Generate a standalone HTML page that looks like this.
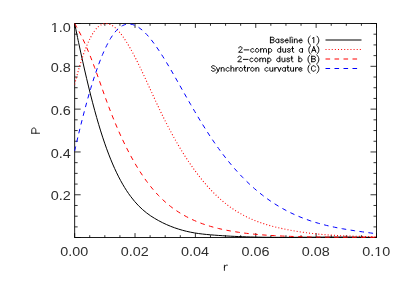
<!DOCTYPE html>
<html><head><meta charset="utf-8"><title>P(r)</title><style>html,body{margin:0;padding:0;background:#fff}svg{display:block}</style></head><body>
<svg width="399" height="285" viewBox="0 0 399 285" style="will-change:transform;transform:translateZ(0);filter:blur(0.3px)">
<rect width="399" height="285" fill="#fff"/>
<clipPath id="c"><rect x="74.15" y="23.00" width="302.85" height="215.00"/></clipPath>
<g fill="none" stroke="#1c1c1c" stroke-width="1">
<rect x="74.65" y="23.50" width="301.85" height="214.00"/>
<path d="M74.65,237.50v-4.40M74.65,23.50v4.40M89.74,237.50v-2.30M89.74,23.50v2.30M104.84,237.50v-2.30M104.84,23.50v2.30M119.93,237.50v-2.30M119.93,23.50v2.30M135.02,237.50v-4.40M135.02,23.50v4.40M150.11,237.50v-2.30M150.11,23.50v2.30M165.20,237.50v-2.30M165.20,23.50v2.30M180.30,237.50v-2.30M180.30,23.50v2.30M195.39,237.50v-4.40M195.39,23.50v4.40M210.48,237.50v-2.30M210.48,23.50v2.30M225.58,237.50v-2.30M225.58,23.50v2.30M240.67,237.50v-2.30M240.67,23.50v2.30M255.76,237.50v-4.40M255.76,23.50v4.40M270.85,237.50v-2.30M270.85,23.50v2.30M285.95,237.50v-2.30M285.95,23.50v2.30M301.04,237.50v-2.30M301.04,23.50v2.30M316.13,237.50v-4.40M316.13,23.50v4.40M331.22,237.50v-2.30M331.22,23.50v2.30M346.32,237.50v-2.30M346.32,23.50v2.30M361.41,237.50v-2.30M361.41,23.50v2.30M376.50,237.50v-4.40M376.50,23.50v4.40M74.65,237.50h6.00M376.50,237.50h-6.00M74.65,226.89h3.00M376.50,226.89h-3.00M74.65,216.19h3.00M376.50,216.19h-3.00M74.65,205.48h3.00M376.50,205.48h-3.00M74.65,194.78h6.00M376.50,194.78h-6.00M74.65,184.07h3.00M376.50,184.07h-3.00M74.65,173.37h3.00M376.50,173.37h-3.00M74.65,162.66h3.00M376.50,162.66h-3.00M74.65,151.96h6.00M376.50,151.96h-6.00M74.65,141.25h3.00M376.50,141.25h-3.00M74.65,130.55h3.00M376.50,130.55h-3.00M74.65,119.84h3.00M376.50,119.84h-3.00M74.65,109.14h6.00M376.50,109.14h-6.00M74.65,98.44h3.00M376.50,98.44h-3.00M74.65,87.73h3.00M376.50,87.73h-3.00M74.65,77.03h3.00M376.50,77.03h-3.00M74.65,66.32h6.00M376.50,66.32h-6.00M74.65,55.61h3.00M376.50,55.61h-3.00M74.65,44.91h3.00M376.50,44.91h-3.00M74.65,34.20h3.00M376.50,34.20h-3.00M74.65,23.50h6.00M376.50,23.50h-6.00" stroke="#000" stroke-width="0.8"/>
</g>
<g fill="none" stroke-width="1" clip-path="url(#c)">
<path d="M74.65,23.50 C75.32,26.71 77.32,36.47 78.65,42.74 C79.98,49.02 81.32,55.18 82.65,61.16 C83.98,67.14 85.32,72.98 86.65,78.62 C87.98,84.26 89.32,89.74 90.65,95.01 C91.98,100.29 93.32,105.39 94.65,110.28 C95.98,115.17 97.32,119.87 98.65,124.35 C99.98,128.84 101.32,133.12 102.65,137.18 C103.98,141.25 105.32,145.11 106.65,148.77 C107.98,152.44 109.32,155.90 110.65,159.19 C111.98,162.48 113.32,165.58 114.65,168.52 C115.98,171.46 117.32,174.21 118.65,176.83 C119.98,179.44 121.32,181.88 122.65,184.20 C123.98,186.51 125.32,188.67 126.65,190.71 C127.98,192.75 129.32,194.64 130.65,196.43 C131.98,198.23 133.32,199.89 134.65,201.46 C135.98,203.03 137.32,204.48 138.65,205.84 C139.98,207.21 141.32,208.46 142.65,209.65 C143.98,210.84 145.32,211.93 146.65,212.96 C147.98,213.99 149.32,214.94 150.65,215.85 C151.98,216.75 153.32,217.59 154.65,218.39 C155.98,219.20 157.32,219.95 158.65,220.67 C159.98,221.40 161.32,222.08 162.65,222.74 C163.98,223.40 165.32,224.02 166.65,224.61 C167.98,225.21 169.32,225.77 170.65,226.30 C171.98,226.83 173.32,227.33 174.65,227.81 C175.98,228.28 177.32,228.73 178.65,229.14 C179.98,229.56 181.32,229.95 182.65,230.32 C183.98,230.68 185.32,231.02 186.65,231.34 C187.98,231.66 189.32,231.95 190.65,232.21 C191.98,232.48 193.32,232.73 194.65,232.95 C195.98,233.17 197.32,233.37 198.65,233.56 C199.98,233.74 201.32,233.91 202.65,234.06 C203.98,234.21 205.32,234.35 206.65,234.48 C207.98,234.61 209.32,234.72 210.65,234.83 C211.98,234.95 213.32,235.05 214.65,235.16 C215.98,235.26 217.32,235.36 218.65,235.45 C219.98,235.55 221.32,235.64 222.65,235.72 C223.98,235.81 225.32,235.89 226.65,235.97 C227.98,236.05 229.32,236.12 230.65,236.19 C231.98,236.26 233.32,236.33 234.65,236.39 C235.98,236.45 237.32,236.51 238.65,236.57 C239.98,236.62 241.32,236.67 242.65,236.72 C243.98,236.77 245.32,236.82 246.65,236.86 C247.98,236.90 249.32,236.94 250.65,236.97 C251.98,237.01 253.32,237.04 254.65,237.07 C255.98,237.10 257.32,237.13 258.65,237.15 C259.98,237.18 261.32,237.20 262.65,237.22 C263.98,237.24 265.32,237.25 266.65,237.27 C267.98,237.28 269.32,237.29 270.65,237.30 C271.98,237.32 273.32,237.32 274.65,237.33 C275.98,237.34 277.32,237.34 278.65,237.34 C279.98,237.35 281.32,237.35 282.65,237.35 C283.98,237.35 285.32,237.35 286.65,237.34 C287.98,237.34 289.32,237.34 290.65,237.33 C291.98,237.33 293.32,237.32 294.65,237.31 C295.98,237.31 297.32,237.30 298.65,237.29 C299.98,237.28 301.32,237.27 302.65,237.26 C303.98,237.25 305.32,237.24 306.65,237.23 C307.98,237.22 309.32,237.21 310.65,237.20 C311.98,237.19 313.32,237.18 314.65,237.17 C315.98,237.16 317.32,237.15 318.65,237.14 C319.98,237.13 321.32,237.12 322.65,237.11 C323.98,237.10 325.32,237.09 326.65,237.08 C327.98,237.08 329.32,237.07 330.65,237.06 C331.98,237.06 333.32,237.05 334.65,237.05 C335.98,237.04 337.32,237.04 338.65,237.04 C339.98,237.04 341.32,237.03 342.65,237.04 C343.98,237.04 345.32,237.04 346.65,237.04 C347.98,237.05 349.32,237.05 350.65,237.06 C351.98,237.07 353.32,237.08 354.65,237.09 C355.98,237.10 357.32,237.12 358.65,237.13 C359.98,237.15 361.32,237.17 362.65,237.19 C363.98,237.21 365.32,237.23 366.65,237.26 C367.98,237.28 369.32,237.31 370.65,237.34 C371.98,237.38 373.67,237.42 374.65,237.45 C375.62,237.47 376.19,237.49 376.50,237.50" stroke="#000"/>
<path d="M74.65,84.35 C75.32,81.89 77.32,74.19 78.65,69.59 C79.98,64.99 81.32,60.69 82.65,56.75 C83.98,52.81 85.32,49.20 86.65,45.95 C87.98,42.70 89.32,39.79 90.65,37.26 C91.98,34.73 93.32,32.57 94.65,30.77 C95.98,28.97 97.32,27.55 98.65,26.44 C99.98,25.33 101.32,24.58 102.65,24.10 C103.98,23.62 105.32,23.48 106.65,23.58 C107.98,23.68 109.32,24.09 110.65,24.71 C111.98,25.33 113.32,26.23 114.65,27.31 C115.98,28.39 117.32,29.72 118.65,31.21 C119.98,32.70 121.32,34.40 122.65,36.24 C123.98,38.07 125.32,40.09 126.65,42.21 C127.98,44.34 129.32,46.62 130.65,48.99 C131.98,51.36 133.32,53.86 134.65,56.43 C135.98,59.00 137.32,61.67 138.65,64.40 C139.98,67.12 141.32,69.93 142.65,72.76 C143.98,75.59 145.32,78.49 146.65,81.39 C147.98,84.29 149.32,87.23 150.65,90.14 C151.98,93.06 153.32,96.00 154.65,98.90 C155.98,101.79 157.32,104.68 158.65,107.51 C159.98,110.33 161.32,113.13 162.65,115.85 C163.98,118.57 165.32,121.24 166.65,123.84 C167.98,126.45 169.32,129.00 170.65,131.49 C171.98,133.98 173.32,136.41 174.65,138.78 C175.98,141.16 177.32,143.48 178.65,145.74 C179.98,148.00 181.32,150.21 182.65,152.36 C183.98,154.51 185.32,156.61 186.65,158.65 C187.98,160.69 189.32,162.68 190.65,164.61 C191.98,166.54 193.32,168.42 194.65,170.25 C195.98,172.08 197.32,173.85 198.65,175.57 C199.98,177.30 201.32,178.97 202.65,180.59 C203.98,182.21 205.32,183.77 206.65,185.29 C207.98,186.81 209.32,188.27 210.65,189.69 C211.98,191.11 213.32,192.48 214.65,193.80 C215.98,195.11 217.32,196.38 218.65,197.61 C219.98,198.83 221.32,200.00 222.65,201.13 C223.98,202.26 225.32,203.33 226.65,204.37 C227.98,205.41 229.32,206.40 230.65,207.35 C231.98,208.30 233.32,209.20 234.65,210.07 C235.98,210.94 237.32,211.77 238.65,212.56 C239.98,213.36 241.32,214.11 242.65,214.83 C243.98,215.55 245.32,216.24 246.65,216.89 C247.98,217.55 249.32,218.17 250.65,218.76 C251.98,219.36 253.32,219.92 254.65,220.46 C255.98,221.00 257.32,221.50 258.65,221.99 C259.98,222.48 261.32,222.94 262.65,223.38 C263.98,223.82 265.32,224.24 266.65,224.64 C267.98,225.04 269.32,225.41 270.65,225.78 C271.98,226.15 273.32,226.49 274.65,226.83 C275.98,227.16 277.32,227.48 278.65,227.79 C279.98,228.10 281.32,228.40 282.65,228.69 C283.98,228.98 285.32,229.25 286.65,229.52 C287.98,229.79 289.32,230.04 290.65,230.29 C291.98,230.53 293.32,230.77 294.65,231.00 C295.98,231.22 297.32,231.44 298.65,231.65 C299.98,231.85 301.32,232.05 302.65,232.24 C303.98,232.43 305.32,232.61 306.65,232.78 C307.98,232.96 309.32,233.12 310.65,233.28 C311.98,233.43 313.32,233.58 314.65,233.72 C315.98,233.87 317.32,234.00 318.65,234.13 C319.98,234.26 321.32,234.38 322.65,234.49 C323.98,234.60 325.32,234.71 326.65,234.81 C327.98,234.91 329.32,235.01 330.65,235.10 C331.98,235.19 333.32,235.27 334.65,235.35 C335.98,235.43 337.32,235.51 338.65,235.58 C339.98,235.65 341.32,235.71 342.65,235.77 C343.98,235.84 345.32,235.89 346.65,235.95 C347.98,236.00 349.32,236.05 350.65,236.10 C351.98,236.14 353.32,236.18 354.65,236.23 C355.98,236.27 357.32,236.30 358.65,236.34 C359.98,236.37 361.32,236.41 362.65,236.44 C363.98,236.47 365.32,236.50 366.65,236.53 C367.98,236.55 369.32,236.58 370.65,236.61 C371.98,236.63 373.67,236.66 374.65,236.68 C375.62,236.70 376.19,236.71 376.50,236.71" stroke="#f00" stroke-dasharray="1 2.12" stroke-width="1.1"/>
<path d="M74.65,23.51 C75.32,24.70 77.32,28.17 78.65,30.68 C79.98,33.19 81.32,35.80 82.65,38.59 C83.98,41.38 85.32,44.32 86.65,47.41 C87.98,50.50 89.32,53.77 90.65,57.14 C91.98,60.51 93.32,64.03 94.65,67.61 C95.98,71.20 97.32,74.92 98.65,78.66 C99.98,82.40 101.32,86.29 102.65,90.04 C103.98,93.80 105.32,97.56 106.65,101.17 C107.98,104.79 109.32,108.33 110.65,111.75 C111.98,115.18 113.32,118.49 114.65,121.72 C115.98,124.94 117.32,128.05 118.65,131.08 C119.98,134.10 121.32,137.02 122.65,139.86 C123.98,142.69 125.32,145.42 126.65,148.07 C127.98,150.72 129.32,153.27 130.65,155.74 C131.98,158.21 133.32,160.58 134.65,162.88 C135.98,165.17 137.32,167.38 138.65,169.51 C139.98,171.63 141.32,173.68 142.65,175.65 C143.98,177.61 145.32,179.50 146.65,181.31 C147.98,183.12 149.32,184.86 150.65,186.52 C151.98,188.19 153.32,189.78 154.65,191.30 C155.98,192.82 157.32,194.27 158.65,195.66 C159.98,197.05 161.32,198.36 162.65,199.62 C163.98,200.89 165.32,202.08 166.65,203.22 C167.98,204.37 169.32,205.45 170.65,206.49 C171.98,207.52 173.32,208.51 174.65,209.45 C175.98,210.39 177.32,211.27 178.65,212.13 C179.98,212.98 181.32,213.79 182.65,214.56 C183.98,215.34 185.32,216.07 186.65,216.78 C187.98,217.48 189.32,218.16 190.65,218.80 C191.98,219.44 193.32,220.05 194.65,220.64 C195.98,221.22 197.32,221.78 198.65,222.31 C199.98,222.84 201.32,223.34 202.65,223.82 C203.98,224.30 205.32,224.75 206.65,225.18 C207.98,225.62 209.32,226.03 210.65,226.42 C211.98,226.81 213.32,227.17 214.65,227.53 C215.98,227.88 217.32,228.21 218.65,228.53 C219.98,228.85 221.32,229.14 222.65,229.43 C223.98,229.72 225.32,229.99 226.65,230.25 C227.98,230.51 229.32,230.76 230.65,231.00 C231.98,231.24 233.32,231.46 234.65,231.68 C235.98,231.89 237.32,232.10 238.65,232.29 C239.98,232.49 241.32,232.68 242.65,232.85 C243.98,233.03 245.32,233.20 246.65,233.36 C247.98,233.51 249.32,233.66 250.65,233.81 C251.98,233.95 253.32,234.08 254.65,234.21 C255.98,234.34 257.32,234.46 258.65,234.57 C259.98,234.69 261.32,234.79 262.65,234.90 C263.98,235.00 265.32,235.09 266.65,235.18 C267.98,235.27 269.32,235.36 270.65,235.44 C271.98,235.52 273.32,235.59 274.65,235.67 C275.98,235.74 277.32,235.81 278.65,235.87 C279.98,235.94 281.32,236.00 282.65,236.06 C283.98,236.11 285.32,236.17 286.65,236.22 C287.98,236.28 289.32,236.33 290.65,236.38 C291.98,236.42 293.32,236.47 294.65,236.51 C295.98,236.56 297.32,236.60 298.65,236.64 C299.98,236.68 301.32,236.71 302.65,236.75 C303.98,236.78 305.32,236.81 306.65,236.84 C307.98,236.87 309.32,236.90 310.65,236.93 C311.98,236.96 313.32,236.98 314.65,237.00 C315.98,237.03 317.32,237.05 318.65,237.07 C319.98,237.09 321.32,237.11 322.65,237.12 C323.98,237.14 325.32,237.16 326.65,237.17 C327.98,237.18 329.32,237.20 330.65,237.21 C331.98,237.22 333.32,237.23 334.65,237.24 C335.98,237.25 337.32,237.26 338.65,237.27 C339.98,237.28 341.32,237.28 342.65,237.29 C343.98,237.30 345.32,237.30 346.65,237.31 C347.98,237.31 349.32,237.32 350.65,237.32 C351.98,237.33 353.32,237.33 354.65,237.34 C355.98,237.34 357.32,237.34 358.65,237.35 C359.98,237.35 361.32,237.35 362.65,237.35 C363.98,237.36 365.32,237.36 366.65,237.36 C367.98,237.37 369.32,237.37 370.65,237.37 C371.98,237.38 373.67,237.38 374.65,237.39 C375.62,237.39 376.19,237.39 376.50,237.39" stroke="#f00" stroke-dasharray="4.6 4.4"/>
<path d="M74.65,150.88 C75.32,148.05 77.32,139.40 78.65,133.88 C79.98,128.37 81.32,122.99 82.65,117.79 C83.98,112.59 85.32,107.54 86.65,102.69 C87.98,97.85 89.32,93.17 90.65,88.70 C91.98,84.24 93.32,79.97 94.65,75.93 C95.98,71.88 97.32,68.05 98.65,64.45 C99.98,60.85 101.32,57.46 102.65,54.32 C103.98,51.17 105.32,48.26 106.65,45.59 C107.98,42.92 109.32,40.49 110.65,38.31 C111.98,36.14 113.32,34.21 114.65,32.54 C115.98,30.88 117.32,29.47 118.65,28.31 C119.98,27.15 121.32,26.26 122.65,25.58 C123.98,24.90 125.32,24.47 126.65,24.23 C127.98,24.00 129.32,23.99 130.65,24.16 C131.98,24.33 133.32,24.72 134.65,25.26 C135.98,25.80 137.32,26.53 138.65,27.40 C139.98,28.28 141.32,29.32 142.65,30.49 C143.98,31.66 145.32,32.99 146.65,34.42 C147.98,35.84 149.32,37.41 150.65,39.06 C151.98,40.71 153.32,42.48 154.65,44.32 C155.98,46.15 157.32,48.09 158.65,50.08 C159.98,52.06 161.32,54.13 162.65,56.24 C163.98,58.34 165.32,60.52 166.65,62.72 C167.98,64.92 169.32,67.18 170.65,69.46 C171.98,71.73 173.32,74.05 174.65,76.38 C175.98,78.70 177.32,81.06 178.65,83.41 C179.98,85.76 181.32,88.12 182.65,90.47 C183.98,92.82 185.32,95.18 186.65,97.51 C187.98,99.84 189.32,102.16 190.65,104.46 C191.98,106.76 193.32,109.04 194.65,111.30 C195.98,113.56 197.32,115.80 198.65,118.01 C199.98,120.22 201.32,122.40 202.65,124.55 C203.98,126.70 205.32,128.82 206.65,130.91 C207.98,132.99 209.32,135.04 210.65,137.05 C211.98,139.05 213.32,141.02 214.65,142.94 C215.98,144.87 217.32,146.75 218.65,148.58 C219.98,150.42 221.32,152.22 222.65,153.98 C223.98,155.73 225.32,157.45 226.65,159.12 C227.98,160.80 229.32,162.43 230.65,164.03 C231.98,165.63 233.32,167.19 234.65,168.71 C235.98,170.22 237.32,171.71 238.65,173.15 C239.98,174.60 241.32,176.00 242.65,177.37 C243.98,178.74 245.32,180.08 246.65,181.38 C247.98,182.68 249.32,183.94 250.65,185.17 C251.98,186.40 253.32,187.60 254.65,188.76 C255.98,189.92 257.32,191.05 258.65,192.14 C259.98,193.24 261.32,194.30 262.65,195.34 C263.98,196.37 265.32,197.37 266.65,198.34 C267.98,199.31 269.32,200.25 270.65,201.16 C271.98,202.07 273.32,202.95 274.65,203.80 C275.98,204.66 277.32,205.48 278.65,206.28 C279.98,207.08 281.32,207.85 282.65,208.59 C283.98,209.34 285.32,210.06 286.65,210.76 C287.98,211.45 289.32,212.12 290.65,212.77 C291.98,213.42 293.32,214.04 294.65,214.65 C295.98,215.25 297.32,215.83 298.65,216.39 C299.98,216.95 301.32,217.49 302.65,218.00 C303.98,218.52 305.32,219.02 306.65,219.50 C307.98,219.98 309.32,220.44 310.65,220.89 C311.98,221.33 313.32,221.76 314.65,222.17 C315.98,222.58 317.32,222.97 318.65,223.35 C319.98,223.73 321.32,224.09 322.65,224.44 C323.98,224.79 325.32,225.12 326.65,225.45 C327.98,225.77 329.32,226.08 330.65,226.38 C331.98,226.67 333.32,226.96 334.65,227.24 C335.98,227.51 337.32,227.78 338.65,228.03 C339.98,228.29 341.32,228.53 342.65,228.77 C343.98,229.01 345.32,229.24 346.65,229.46 C347.98,229.69 349.32,229.90 350.65,230.11 C351.98,230.32 353.32,230.53 354.65,230.73 C355.98,230.93 357.32,231.12 358.65,231.31 C359.98,231.51 361.32,231.69 362.65,231.88 C363.98,232.07 365.32,232.25 366.65,232.43 C367.98,232.61 369.32,232.79 370.65,232.98 C371.98,233.16 373.67,233.39 374.65,233.52 C375.62,233.65 376.19,233.73 376.50,233.77" stroke="#00f" stroke-dasharray="4.6 4.4"/>
</g>
<g font-family="Liberation Sans, sans-serif" font-size="13.3" fill="#2e2e2e">
<text x="74.35" y="255.6" text-anchor="middle" textLength="28.0" lengthAdjust="spacingAndGlyphs">0.00</text>
<text x="134.72" y="255.6" text-anchor="middle" textLength="28.0" lengthAdjust="spacingAndGlyphs">0.02</text>
<text x="195.09" y="255.6" text-anchor="middle" textLength="28.0" lengthAdjust="spacingAndGlyphs">0.04</text>
<text x="255.46" y="255.6" text-anchor="middle" textLength="28.0" lengthAdjust="spacingAndGlyphs">0.06</text>
<text x="315.83" y="255.6" text-anchor="middle" textLength="28.0" lengthAdjust="spacingAndGlyphs">0.08</text>
<text x="376.20" y="255.6" text-anchor="middle" textLength="28.0" lengthAdjust="spacingAndGlyphs">0.10</text>
<text x="70.8" y="32.40" text-anchor="end" textLength="20.1" lengthAdjust="spacingAndGlyphs">1.0</text>
<text x="70.8" y="71.92" text-anchor="end" textLength="20.1" lengthAdjust="spacingAndGlyphs">0.8</text>
<text x="70.8" y="114.74" text-anchor="end" textLength="20.1" lengthAdjust="spacingAndGlyphs">0.6</text>
<text x="70.8" y="157.56" text-anchor="end" textLength="20.1" lengthAdjust="spacingAndGlyphs">0.4</text>
<text x="70.8" y="200.38" text-anchor="end" textLength="20.1" lengthAdjust="spacingAndGlyphs">0.2</text>
</g>
<path d="M50.5,31h3.5v1h-3.5zM56,31h3v1h-3zM374.5,255h3.1v1h-3.1zM379.4,255h3.1v1h-3.1z" fill="#fff"/>
<g fill="none" stroke-width="1">
<path d="M325.5,40H361.5" stroke="#000"/>
<path d="M325.5,49.5H361.5" stroke="#f00" stroke-dasharray="1 2.12" stroke-width="1.1"/>
<path d="M325.5,59H361.5" stroke="#f00" stroke-dasharray="4.6 4.4"/>
<path d="M325.5,68.5H361.5" stroke="#00f" stroke-dasharray="4.6 4.4"/>
</g>
<g fill="none" stroke="#000" stroke-width="0.95" stroke-linejoin="round" stroke-linecap="round">
<g aria-label="Baseline (1)"><title>Baseline (1)</title><path d="M270.41,37.23L270.41,42.75M270.41,37.23L272.77,37.23L273.56,37.49L273.83,37.75L274.09,38.28L274.09,38.8L273.83,39.33L273.56,39.59L272.77,39.86M270.41,39.86L272.77,39.86L273.56,40.12L273.83,40.38L274.09,40.91L274.09,41.7L273.83,42.22L273.56,42.49L272.77,42.75L270.41,42.75M278.82,39.07L278.82,42.75M278.82,39.86L278.3,39.33L277.77,39.07L276.98,39.07L276.46,39.33L275.93,39.86L275.67,40.65L275.67,41.17L275.93,41.96L276.46,42.49L276.98,42.75L277.77,42.75L278.3,42.49L278.82,41.96M283.56,39.86L283.29,39.33L282.5,39.07L281.72,39.07L280.93,39.33L280.66,39.86L280.93,40.38L281.45,40.65L282.77,40.91L283.29,41.17L283.56,41.7L283.56,41.96L283.29,42.49L282.5,42.75L281.72,42.75L280.93,42.49L280.66,41.96M285.13,40.65L288.29,40.65L288.29,40.12L288.03,39.59L287.76,39.33L287.24,39.07L286.45,39.07L285.92,39.33L285.4,39.86L285.13,40.65L285.13,41.17L285.4,41.96L285.92,42.49L286.45,42.75L287.24,42.75L287.76,42.49L288.29,41.96M290.13,37.23L290.13,42.75M291.97,37.23L292.24,37.49L292.5,37.23L292.24,36.96L291.97,37.23M292.24,39.07L292.24,42.75M294.34,39.07L294.34,42.75M294.34,40.12L295.13,39.33L295.65,39.07L296.44,39.07L296.97,39.33L297.23,40.12L297.23,42.75M299.07,40.65L302.23,40.65L302.23,40.12L301.97,39.59L301.7,39.33L301.18,39.07L300.39,39.07L299.86,39.33L299.34,39.86L299.07,40.65L299.07,41.17L299.34,41.96L299.86,42.49L300.39,42.75L301.18,42.75L301.7,42.49L302.23,41.96M310.12,36.17L309.59,36.7L309.07,37.49L308.54,38.54L308.28,39.86L308.28,40.91L308.54,42.22L309.07,43.28L309.59,44.06L310.12,44.59M312.49,38.28L313.01,38.02L313.8,37.23L313.8,42.75M316.96,36.17L317.48,36.7L318.01,37.49L318.54,38.54L318.8,39.86L318.8,40.91L318.54,42.22L318.01,43.28L317.48,44.06L316.96,44.59"/></g>
<g aria-label="2-comp dust a (A)"><title>2-comp dust a (A)</title><path d="M238.85,48.04L238.85,47.78L239.11,47.25L239.37,46.99L239.9,46.73L240.95,46.73L241.48,46.99L241.74,47.25L242,47.78L242,48.3L241.74,48.83L241.21,49.62L238.58,52.25L242.27,52.25M244.11,49.88L248.84,49.88M253.84,49.36L253.31,48.83L252.79,48.57L252,48.57L251.47,48.83L250.94,49.36L250.68,50.15L250.68,50.67L250.94,51.46L251.47,51.99L252,52.25L252.79,52.25L253.31,51.99L253.84,51.46M256.73,48.57L256.2,48.83L255.68,49.36L255.42,50.15L255.42,50.67L255.68,51.46L256.2,51.99L256.73,52.25L257.52,52.25L258.05,51.99L258.57,51.46L258.83,50.67L258.83,50.15L258.57,49.36L258.05,48.83L257.52,48.57L256.73,48.57M260.68,48.57L260.68,52.25M260.68,49.62L261.46,48.83L261.99,48.57L262.78,48.57L263.31,48.83L263.57,49.62L263.57,52.25M263.57,49.62L264.36,48.83L264.88,48.57L265.67,48.57L266.2,48.83L266.46,49.62L266.46,52.25M268.57,48.57L268.57,54.09M268.57,49.36L269.09,48.83L269.62,48.57L270.41,48.57L270.93,48.83L271.46,49.36L271.72,50.15L271.72,50.67L271.46,51.46L270.93,51.99L270.41,52.25L269.62,52.25L269.09,51.99L268.57,51.46M280.66,46.73L280.66,52.25M280.66,49.36L280.14,48.83L279.61,48.57L278.82,48.57L278.3,48.83L277.77,49.36L277.51,50.15L277.51,50.67L277.77,51.46L278.3,51.99L278.82,52.25L279.61,52.25L280.14,51.99L280.66,51.46M282.77,48.57L282.77,51.2L283.03,51.99L283.56,52.25L284.35,52.25L284.87,51.99L285.66,51.2M285.66,48.57L285.66,52.25M290.39,49.36L290.13,48.83L289.34,48.57L288.55,48.57L287.76,48.83L287.5,49.36L287.76,49.88L288.29,50.15L289.61,50.41L290.13,50.67L290.39,51.2L290.39,51.46L290.13,51.99L289.34,52.25L288.55,52.25L287.76,51.99L287.5,51.46M292.5,46.73L292.5,51.2L292.76,51.99L293.29,52.25L293.81,52.25M291.71,48.57L293.55,48.57M302.49,48.57L302.49,52.25M302.49,49.36L301.97,48.83L301.44,48.57L300.65,48.57L300.13,48.83L299.6,49.36L299.34,50.15L299.34,50.67L299.6,51.46L300.13,51.99L300.65,52.25L301.44,52.25L301.97,51.99L302.49,51.46M310.65,45.67L310.12,46.2L309.59,46.99L309.07,48.04L308.8,49.36L308.8,50.41L309.07,51.72L309.59,52.78L310.12,53.56L310.65,54.09M313.8,46.73L311.7,52.25M313.8,46.73L315.91,52.25M312.49,50.41L315.12,50.41M316.96,45.67L317.48,46.2L318.01,46.99L318.54,48.04L318.8,49.36L318.8,50.41L318.54,51.72L318.01,52.78L317.48,53.56L316.96,54.09"/></g>
<g aria-label="2-comp dust b (B)"><title>2-comp dust b (B)</title><path d="M238.06,57.54L238.06,57.28L238.32,56.75L238.58,56.49L239.11,56.23L240.16,56.23L240.69,56.49L240.95,56.75L241.21,57.28L241.21,57.8L240.95,58.33L240.42,59.12L237.79,61.75L241.48,61.75M243.32,59.38L248.05,59.38M253.05,58.86L252.52,58.33L252,58.07L251.21,58.07L250.68,58.33L250.16,58.86L249.89,59.65L249.89,60.17L250.16,60.96L250.68,61.49L251.21,61.75L252,61.75L252.52,61.49L253.05,60.96M255.94,58.07L255.42,58.33L254.89,58.86L254.63,59.65L254.63,60.17L254.89,60.96L255.42,61.49L255.94,61.75L256.73,61.75L257.26,61.49L257.78,60.96L258.05,60.17L258.05,59.65L257.78,58.86L257.26,58.33L256.73,58.07L255.94,58.07M259.89,58.07L259.89,61.75M259.89,59.12L260.68,58.33L261.2,58.07L261.99,58.07L262.52,58.33L262.78,59.12L262.78,61.75M262.78,59.12L263.57,58.33L264.09,58.07L264.88,58.07L265.41,58.33L265.67,59.12L265.67,61.75M267.78,58.07L267.78,63.59M267.78,58.86L268.3,58.33L268.83,58.07L269.62,58.07L270.14,58.33L270.67,58.86L270.93,59.65L270.93,60.17L270.67,60.96L270.14,61.49L269.62,61.75L268.83,61.75L268.3,61.49L267.78,60.96M279.87,56.23L279.87,61.75M279.87,58.86L279.35,58.33L278.82,58.07L278.03,58.07L277.51,58.33L276.98,58.86L276.72,59.65L276.72,60.17L276.98,60.96L277.51,61.49L278.03,61.75L278.82,61.75L279.35,61.49L279.87,60.96M281.98,58.07L281.98,60.7L282.24,61.49L282.77,61.75L283.56,61.75L284.08,61.49L284.87,60.7M284.87,58.07L284.87,61.75M289.61,58.86L289.34,58.33L288.55,58.07L287.76,58.07L286.98,58.33L286.71,58.86L286.98,59.38L287.5,59.65L288.82,59.91L289.34,60.17L289.61,60.7L289.61,60.96L289.34,61.49L288.55,61.75L287.76,61.75L286.98,61.49L286.71,60.96M291.71,56.23L291.71,60.7L291.97,61.49L292.5,61.75L293.02,61.75M290.92,58.07L292.76,58.07M298.81,56.23L298.81,61.75M298.81,58.86L299.34,58.33L299.86,58.07L300.65,58.07L301.18,58.33L301.7,58.86L301.97,59.65L301.97,60.17L301.7,60.96L301.18,61.49L300.65,61.75L299.86,61.75L299.34,61.49L298.81,60.96M309.86,55.17L309.33,55.7L308.8,56.49L308.28,57.54L308.02,58.86L308.02,59.91L308.28,61.22L308.8,62.28L309.33,63.06L309.86,63.59M311.7,56.23L311.7,61.75M311.7,56.23L314.06,56.23L314.85,56.49L315.12,56.75L315.38,57.28L315.38,57.8L315.12,58.33L314.85,58.59L314.06,58.86M311.7,58.86L314.06,58.86L314.85,59.12L315.12,59.38L315.38,59.91L315.38,60.7L315.12,61.22L314.85,61.49L314.06,61.75L311.7,61.75M316.96,55.17L317.48,55.7L318.01,56.49L318.54,57.54L318.8,58.86L318.8,59.91L318.54,61.22L318.01,62.28L317.48,63.06L316.96,63.59"/></g>
<g aria-label="Synchrotron curvature (C)"><title>Synchrotron curvature (C)</title><path d="M215.18,66.52L214.65,65.99L213.86,65.73L212.81,65.73L212.02,65.99L211.49,66.52L211.49,67.04L211.76,67.57L212.02,67.83L212.55,68.09L214.12,68.62L214.65,68.88L214.91,69.15L215.18,69.67L215.18,70.46L214.65,70.99L213.86,71.25L212.81,71.25L212.02,70.99L211.49,70.46M216.49,67.57L218.07,71.25M219.65,67.57L218.07,71.25L217.54,72.3L217.02,72.83L216.49,73.09L216.23,73.09M221.23,67.57L221.23,71.25M221.23,68.62L222.01,67.83L222.54,67.57L223.33,67.57L223.86,67.83L224.12,68.62L224.12,71.25M229.12,68.36L228.59,67.83L228.06,67.57L227.27,67.57L226.75,67.83L226.22,68.36L225.96,69.15L225.96,69.67L226.22,70.46L226.75,70.99L227.27,71.25L228.06,71.25L228.59,70.99L229.12,70.46M230.96,65.73L230.96,71.25M230.96,68.62L231.75,67.83L232.27,67.57L233.06,67.57L233.59,67.83L233.85,68.62L233.85,71.25M235.95,67.57L235.95,71.25M235.95,69.15L236.22,68.36L236.74,67.83L237.27,67.57L238.06,67.57M240.42,67.57L239.9,67.83L239.37,68.36L239.11,69.15L239.11,69.67L239.37,70.46L239.9,70.99L240.42,71.25L241.21,71.25L241.74,70.99L242.27,70.46L242.53,69.67L242.53,69.15L242.27,68.36L241.74,67.83L241.21,67.57L240.42,67.57M244.63,65.73L244.63,70.2L244.9,70.99L245.42,71.25L245.95,71.25M243.84,67.57L245.68,67.57M247.53,67.57L247.53,71.25M247.53,69.15L247.79,68.36L248.31,67.83L248.84,67.57L249.63,67.57M252,67.57L251.47,67.83L250.94,68.36L250.68,69.15L250.68,69.67L250.94,70.46L251.47,70.99L252,71.25L252.79,71.25L253.31,70.99L253.84,70.46L254.1,69.67L254.1,69.15L253.84,68.36L253.31,67.83L252.79,67.57L252,67.57M255.94,67.57L255.94,71.25M255.94,68.62L256.73,67.83L257.26,67.57L258.05,67.57L258.57,67.83L258.83,68.62L258.83,71.25M268.04,68.36L267.51,67.83L266.99,67.57L266.2,67.57L265.67,67.83L265.15,68.36L264.88,69.15L264.88,69.67L265.15,70.46L265.67,70.99L266.2,71.25L266.99,71.25L267.51,70.99L268.04,70.46M269.88,67.57L269.88,70.2L270.14,70.99L270.67,71.25L271.46,71.25L271.98,70.99L272.77,70.2M272.77,67.57L272.77,71.25M274.88,67.57L274.88,71.25M274.88,69.15L275.14,68.36L275.67,67.83L276.19,67.57L276.98,67.57M277.77,67.57L279.35,71.25M280.93,67.57L279.35,71.25M285.4,67.57L285.4,71.25M285.4,68.36L284.87,67.83L284.35,67.57L283.56,67.57L283.03,67.83L282.5,68.36L282.24,69.15L282.24,69.67L282.5,70.46L283.03,70.99L283.56,71.25L284.35,71.25L284.87,70.99L285.4,70.46M287.76,65.73L287.76,70.2L288.03,70.99L288.55,71.25L289.08,71.25M286.98,67.57L288.82,67.57M290.66,67.57L290.66,70.2L290.92,70.99L291.45,71.25L292.24,71.25L292.76,70.99L293.55,70.2M293.55,67.57L293.55,71.25M295.65,67.57L295.65,71.25M295.65,69.15L295.92,68.36L296.44,67.83L296.97,67.57L297.76,67.57M298.81,69.15L301.97,69.15L301.97,68.62L301.7,68.09L301.44,67.83L300.91,67.57L300.12,67.57L299.6,67.83L299.07,68.36L298.81,69.15L298.81,69.67L299.07,70.46L299.6,70.99L300.12,71.25L300.91,71.25L301.44,70.99L301.97,70.46M309.86,64.67L309.33,65.2L308.8,65.99L308.28,67.04L308.01,68.36L308.01,69.41L308.28,70.72L308.8,71.78L309.33,72.56L309.86,73.09M315.38,67.04L315.12,66.52L314.59,65.99L314.06,65.73L313.01,65.73L312.49,65.99L311.96,66.52L311.7,67.04L311.43,67.83L311.43,69.15L311.7,69.94L311.96,70.46L312.49,70.99L313.01,71.25L314.06,71.25L314.59,70.99L315.12,70.46L315.38,69.94M316.96,64.67L317.48,65.2L318.01,65.99L318.54,67.04L318.8,68.36L318.8,69.41L318.54,70.72L318.01,71.78L317.48,72.56L316.96,73.09"/></g>
</g>
<g fill="none" stroke="#000" stroke-width="0.85" stroke-linejoin="round" stroke-linecap="round">
<g aria-label="P"><title>P</title><path d="M31.74,133.22L39.55,133.22M31.74,133.22L31.74,129.87L32.12,128.76L32.49,128.38L33.23,128.01L34.35,128.01L35.09,128.38L35.46,128.76L35.83,129.87L35.83,133.22"/></g>
<g aria-label="r"><title>r</title><path d="M224.42,265.2L224.42,270.4M224.42,267.43L224.79,266.31L225.54,265.57L226.28,265.2L227.39,265.2"/></g>
</g>
</svg>
</body></html>
